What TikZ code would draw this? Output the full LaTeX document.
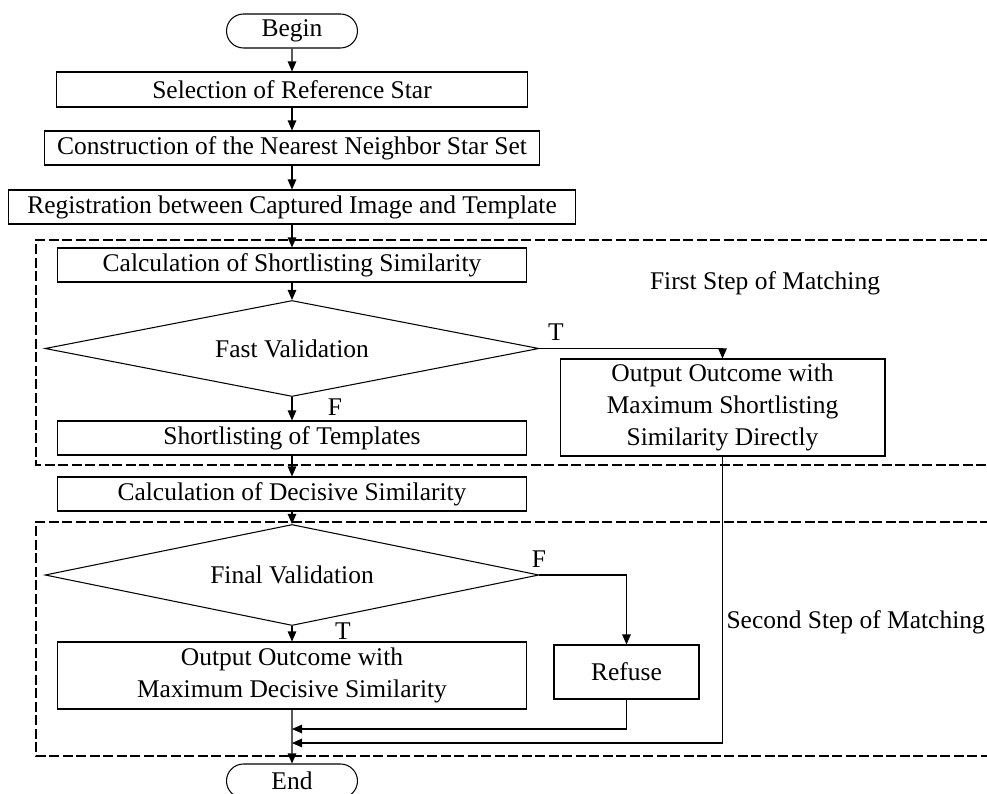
\documentclass[tikz,border=0pt]{standalone}
\usepackage{fontspec}
\setmainfont{Liberation Serif}
\usetikzlibrary{positioning,shapes.geometric,shapes.misc,arrows.meta}

\begin{document}
\begin{tikzpicture}[x=0.02cm,y=-0.02cm,
      font=\fontsize{14.5}{18}\selectfont,
      line width=0.6pt,
      >={Triangle[length=0.2cm,width=0.17cm]},
      proc/.style={draw,rectangle,minimum height=0.68cm,inner sep=0pt,align=center},
      term/.style={draw,rounded rectangle,minimum width=2.62cm,minimum height=0.68cm,inner sep=0pt},
      decision/.style={draw,diamond,shape aspect=1.97,minimum width=9.88cm,inner sep=0pt},
      stage/.style={dashed,line width=1.2pt,dash pattern=on 0.2cm off 0.07cm},
      lbl/.style={inner sep=0pt}]

    \useasboundingbox (0,0) rectangle (987,794);

    % frames of the two matching steps
    \draw[stage] (990,240) -- (36,240) -- (36,465) -- (990,465);
    \draw[stage] (990,522) -- (36,522) -- (36,756) -- (990,756);
    \node[lbl] (step1) at (765,283) {First Step of Matching};
    \node[lbl,anchor=west] (step2) at (726,622) {Second Step of Matching};

    \node[term] (begin) at (292,31) {Begin};
    \node[proc,minimum width=9.42cm,minimum height=0.7cm] (select) at (292,89.5) {Selection of Reference Star};
    \node[proc,minimum width=9.9cm] (construct) at (292,148) {Construction of the Nearest Neighbor Star Set};
    \node[proc,minimum width=11.34cm] (register) at (292,207) {Registration between Captured Image and Template};
    \node[proc,minimum width=9.4cm] (calcshort) at (292,265) {Calculation of Shortlisting Similarity};
    \node[decision] (fast) at (292,348.5) {Fast Validation};
    \node[proc,minimum width=6.5cm,minimum height=1.94cm] (outshort) at (722.5,407.5)
      {Output Outcome with\\Maximum Shortlisting\\Similarity Directly};
    \node[proc,minimum width=9.4cm] (shortlist) at (292,438) {Shortlisting of Templates};
    \node[proc,minimum width=9.4cm] (calcdec) at (292,494) {Calculation of Decisive Similarity};
    \node[decision] (final) at (292,575) {Final Validation};
    \node[proc,minimum width=9.4cm,minimum height=1.34cm] (outdec) at (292,675.5)
      {Output Outcome with\\Maximum Decisive Similarity};
    \node[proc,minimum width=2.9cm,minimum height=1.08cm] (refuse) at (626.5,672) {Refuse};
    \node[term] (end) at (292,781) {End};

    \coordinate (join1) at (292,729);
    \coordinate (join2) at (292,743);

    \draw[->] (begin) -- (select);
    \draw[->] (select) -- (construct);
    \draw[->] (construct) -- (register);
    \draw[->] (register) -- (calcshort);
    \draw[->] (calcshort) -- (fast);
    \draw[->] (fast.east) -| (outshort.north);
    \draw[->] (fast.south) -- (shortlist);
    \draw[->] (shortlist) -- (calcdec);
    \draw[->] (calcdec) -- (final);
    \draw[->] (final.east) -| (refuse.north);
    \draw[->] (final.south) -- (outdec);
    \draw[->] (outdec) -- (end);
    \draw[->] (refuse.south) |- (join1);
    \draw[->] (outshort.south) |- (join2);

    \node[lbl] (tfast) at (556,332) {T};
    \node[lbl] (ffast) at (335,407) {F};
    \node[lbl] (ffinal) at (539,559) {F};
    \node[lbl] (tfinal) at (343,631) {T};

\end{tikzpicture}
\end{document}
